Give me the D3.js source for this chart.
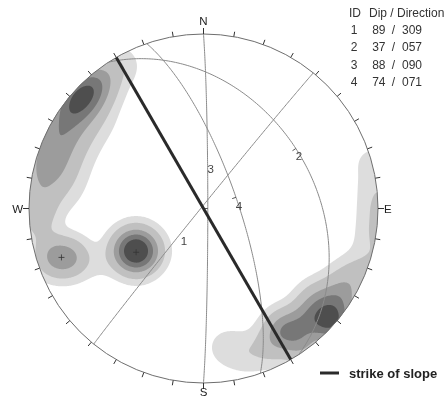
<!DOCTYPE html>
<html><head><meta charset="utf-8">
<script src="https://cdn.jsdelivr.net/npm/d3@7"></script>
<style>html,body{margin:0;padding:0;background:#fff;}svg{display:block;filter:grayscale(1);}</style>
</head><body><svg id="c" width="444" height="401"></svg>
<script>
// ---------------- data ----------------
const planeIds = [1, 2, 3, 4];
const planeDip = [89, 37, 88, 74];
const planeDipDir = [309, 57, 90, 71];
const slopeStrike = [330];

// poles (lower hemisphere): trend, plunge, weight
const poleTrend  = [330,325,320,315,310,305,300,295,290,285,280,275,270,265,258,
                    320,314,308,302,296,290,284,278,272,
                    311,304,297,290,283,276,
                    242.9,
                    251.6,249.7,
                    237.8,240.9,234.0,242.3,233.7,
                    75,83,90,97,104,111,
                    131.4,123.5,146.1,138.9,128.6,116.3,154,144.7,134.2,125.9,119.3,112.7,
                    165.7,170.8,161.8];
const polePlunge = [5.5,5.5,5.5,5.5,5.5,5.5,5.5,5.5,5.5,5.5,5.5,5.5,5.5,5.5,8,
                    14.8,14.8,14.8,14.8,14.8,14.8,14.8,14.8,14.8,
                    24,24,24,24,24,24,
                    33.2,
                    11.3,19.5,
                    52.3,48.5,55.9,54,50.4,
                    0,0,0,0,0,0,
                    3.8,5.5,17.3,12.5,17.1,5.6,14,4.7,16,11.5,11.3,6.5,
                    16.3,20.7,12];
const poleWeight = [0.5,0.8,2.2,4.2,4.2,2.4,1.6,1.5,1.5,1.4,1.0,0.7,1.2,0.7,0.5,
                    0.35,0.8,0.9,1.0,1.05,1.05,1.0,0.55,0.25,
                    0.2,0.25,0.25,0.25,0.25,0.15,
                    0.3,
                    2.4,2.4,
                    4,2,2,2,2,
                    0.4,0.6,0.8,0.8,0.6,0.5,
                    7.5,2.0,3.8,2.5,1.5,0.8,1.3,2.0,1.5,1.0,0.8,0.5,
                    0.42,0.42,0.3];
const meanTrend = [237, 251];
const meanPlunge = [52, 15];
const contourLevels = [0.24, 0.9, 2.56, 4.5, 6.85];
const cardinalLabels = ['N', 'E', 'S', 'W'];
const cardinalAz = [0, 90, 180, 270];
const tableHeader = ['ID', 'Dip / Direction'];
const legendLabel = 'strike of slope';

// ---------------- layout ----------------
const svg = d3.select('#c');
const cx = 203.5, cy = 208.5, R = 174.5, rad = Math.PI / 180;
const proj = d3.geoAzimuthalEqualArea().rotate([0, -90]).scale(R / Math.SQRT2).translate([cx, cy]);
const toXY = (t, p) => proj([180 - t, p]);
const fillColors = ['#dddddd', '#c0c0c0', '#9c9c9c', '#777777', '#4e4e4e'];

svg.append('rect').attr('width', 444).attr('height', 401).attr('fill', '#fff');
svg.append('defs').append('clipPath').attr('id', 'net')
  .append('circle').attr('cx', cx).attr('cy', cy).attr('r', R);

// ---------------- density contours ----------------
const sigma = 12;
const pts = poleTrend.map((t, i) => { const p = toXY(t, polePlunge[i]); return [p[0], p[1], poleWeight[i]]; });
const x0 = Math.floor(cx - R - 6), y0 = Math.floor(cy - R - 6);
const n = Math.ceil(2 * R + 12), m = n;
const vals = new Float64Array(n * m);
const s2 = 2 * sigma * sigma;
for (let j = 0; j < m; j++) {
  const y = y0 + j + 0.5;
  for (let i = 0; i < n; i++) {
    const x = x0 + i + 0.5;
    let v = 0;
    for (const p of pts) {
      const dx = x - p[0], dy = y - p[1];
      const d2 = dx * dx + dy * dy;
      if (d2 < 9 * s2) v += p[2] * Math.exp(-d2 / s2);
    }
    vals[j * n + i] = v;
  }
}
const contours = d3.contours().size([n, m]).thresholds(contourLevels)(vals);
const cPath = d3.geoPath(d3.geoIdentity().translate([x0, y0]));
const color = d3.scaleOrdinal().domain(contourLevels).range(fillColors);
svg.append('g').attr('clip-path', 'url(#net)')
  .selectAll('path').data(contours).join('path')
  .attr('d', cPath).attr('fill', d => color(d.value)).attr('stroke', 'none');

// ---------------- primitive circle & ticks ----------------
svg.append('circle').attr('cx', cx).attr('cy', cy).attr('r', R)
  .attr('fill', 'none').attr('stroke', '#6e6e6e').attr('stroke-width', 1);
const tickAz = d3.range(0, 360, 10);
svg.append('g').selectAll('line').data(tickAz).join('line')
  .each(function (a) {
    const inner = toXY(a, 0);
    const len = (a % 90 === 0) ? 6 : 5;
    d3.select(this)
      .attr('x1', inner[0]).attr('y1', inner[1])
      .attr('x2', inner[0] + len * Math.sin(a * rad)).attr('y2', inner[1] - len * Math.cos(a * rad));
  })
  .attr('stroke', '#333').attr('stroke-width', 1);

const cardOff = [[0, -9], [6, 4], [0, 13], [-6, 4]];
const cardAnchor = ['middle', 'start', 'middle', 'end'];
svg.append('g').selectAll('text').data(cardinalLabels).join('text')
  .attr('x', (d, i) => toXY(cardinalAz[i], 0)[0] + cardOff[i][0])
  .attr('y', (d, i) => toXY(cardinalAz[i], 0)[1] + cardOff[i][1])
  .attr('text-anchor', (d, i) => cardAnchor[i])
  .attr('font-family', 'Liberation Sans, Arial, sans-serif').attr('font-size', 11.5)
  .attr('fill', '#222').text(d => d);

// ---------------- great circles ----------------
function planePoint(dip, dd, th) {
  const s = (dd - 90) * rad, d = dd * rad, de = dip * rad, t = th * rad;
  const S = [Math.cos(s), Math.sin(s), 0];
  const D = [Math.cos(de) * Math.cos(d), Math.cos(de) * Math.sin(d), Math.sin(de)];
  const v = [0, 1, 2].map(k => Math.cos(t) * S[k] + Math.sin(t) * D[k]);
  const pl = Math.asin(Math.max(-1, Math.min(1, v[2]))) / rad;
  const tr = Math.atan2(v[1], v[0]) / rad;
  return toXY(tr, pl);
}
const line = d3.line();
const thetas = d3.range(0, 180.5, 1);
svg.append('g').attr('clip-path', 'url(#net)')
  .selectAll('path').data(planeIds).join('path')
  .attr('d', (d, i) => line(thetas.map(th => planePoint(planeDip[i], planeDipDir[i], th))))
  .attr('fill', 'none').attr('stroke', '#8a8a8a').attr('stroke-width', 1);

// dip ticks
svg.append('g').selectAll('line').data(planeIds).join('line')
  .each(function (d, i) {
    const p = planePoint(planeDip[i], planeDipDir[i], 90);
    const a = planeDipDir[i] * rad;
    d3.select(this).attr('x1', p[0]).attr('y1', p[1])
      .attr('x2', p[0] - 4 * Math.sin(a)).attr('y2', p[1] + 4 * Math.cos(a));
  })
  .attr('stroke', '#555').attr('stroke-width', 1);

// plane labels
const labelTheta = [71.5, 90, 71.5, 90];
const labelShift = [[7, 3], [3, 7.5], [3, 0], [3, 8.5]];
svg.append('g').selectAll('text').data(planeIds).join('text')
  .attr('x', (d, i) => planePoint(planeDip[i], planeDipDir[i], labelTheta[i])[0] + labelShift[i][0])
  .attr('y', (d, i) => planePoint(planeDip[i], planeDipDir[i], labelTheta[i])[1] + labelShift[i][1])
  .attr('text-anchor', 'middle').attr('dominant-baseline', 'central')
  .attr('font-family', 'Liberation Sans, Arial, sans-serif').attr('font-size', 11.5)
  .attr('fill', '#444').text(d => d);

// mean pole markers
svg.append('g').selectAll('path').data(meanTrend).join('path')
  .attr('d', (d, i) => { const p = toXY(d, meanPlunge[i]); return `M${p[0] - 3},${p[1]}H${p[0] + 3}M${p[0]},${p[1] - 3}V${p[1] + 3}`; })
  .attr('stroke', '#333').attr('stroke-width', 0.8);

// ---------------- strike of slope ----------------
svg.append('g').selectAll('line').data(slopeStrike).join('line')
  .each(function (s) {
    const a = toXY(s, 0), b = toXY(s + 180, 0);
    d3.select(this).attr('x1', a[0]).attr('y1', a[1]).attr('x2', b[0]).attr('y2', b[1]);
  })
  .attr('stroke', '#2a2a2a').attr('stroke-width', 3);

// ---------------- table legend ----------------
const tf = 'Liberation Sans, Arial, sans-serif';
const tg = svg.append('g').attr('font-family', tf).attr('font-size', 12).attr('fill', '#333');
tg.append('text').attr('x', 349).attr('y', 17).text(tableHeader[0]);
tg.append('text').attr('x', 369).attr('y', 17).text(tableHeader[1]);
const rowY = d3.scaleLinear().domain([0, 1]).range([34, 51.3]);
const fmt3 = d3.format('03d');
planeIds.forEach((id, i) => {
  const y = rowY(i);
  tg.append('text').attr('x', 354).attr('y', y).attr('text-anchor', 'middle').text(id);
  tg.append('text').attr('x', 385.5).attr('y', y).attr('text-anchor', 'end').text(planeDip[i]);
  tg.append('text').attr('x', 393.5).attr('y', y).attr('text-anchor', 'middle').text('/');
  tg.append('text').attr('x', 402).attr('y', y).text(fmt3(planeDipDir[i]));
});

// ---------------- strike legend ----------------
svg.append('line').attr('x1', 320).attr('x2', 339).attr('y1', 373).attr('y2', 373)
  .attr('stroke', '#2a2a2a').attr('stroke-width', 3);
svg.append('text').attr('x', 349).attr('y', 377.5)
  .attr('font-family', tf).attr('font-size', 13).attr('font-weight', 'bold')
  .attr('fill', '#222').text(legendLabel);
</script></body></html>
